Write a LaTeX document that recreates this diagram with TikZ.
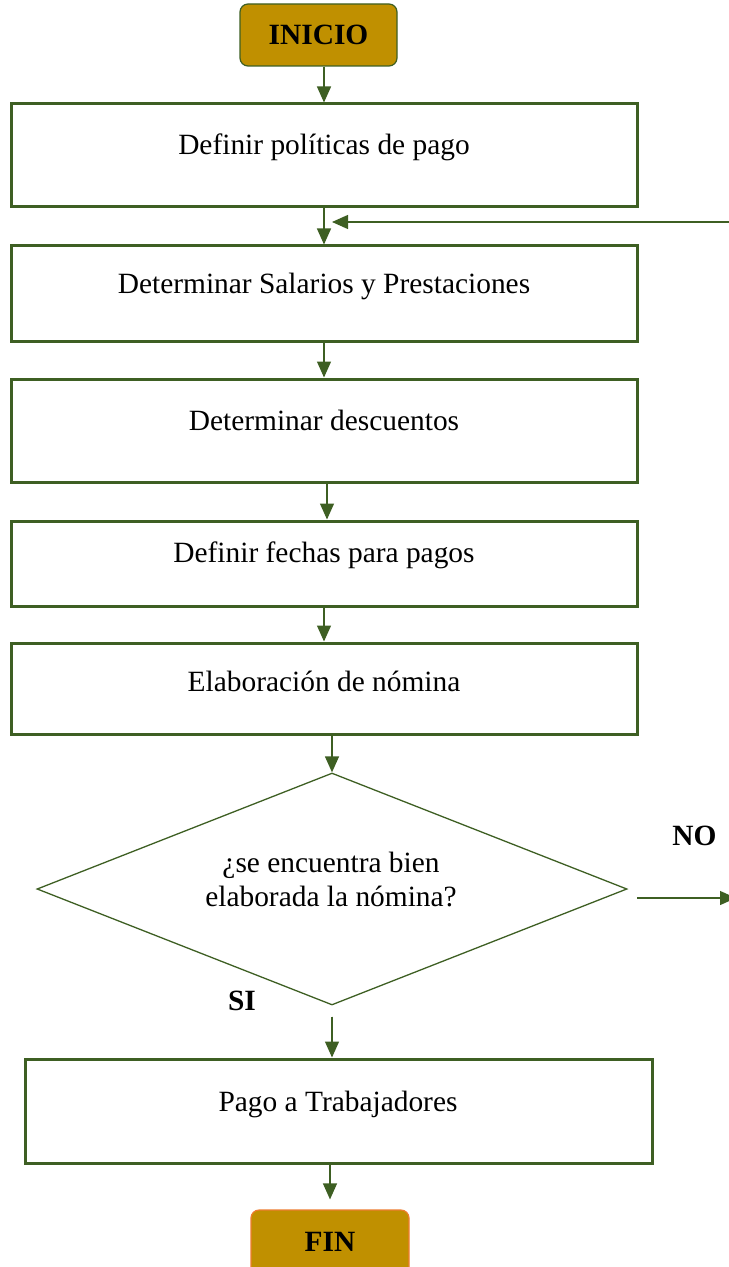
\documentclass[tikz,border=0pt]{standalone}
\usepackage{fontspec}
\setmainfont{Liberation Serif}
\usetikzlibrary{arrows.meta,shapes.geometric}
\definecolor{dgreen}{RGB}{62,95,35}
\definecolor{gold}{RGB}{192,144,0}
\definecolor{orng}{RGB}{237,125,49}
\begin{document}
\begin{tikzpicture}[x=0.5pt,y=-0.5pt,
  every node/.style={font=\fontsize{14.7}{17.6}\selectfont, inner sep=0pt},
  procbox/.style={draw=dgreen, line width=1.5pt, rectangle, minimum width=313pt},
  termbox/.style={fill=gold, rectangle, rounded corners=4pt, minimum width=78.5pt, minimum height=31pt, line width=0.6pt},
  dec/.style={draw=dgreen, line width=0.65pt, diamond, minimum width=295pt, minimum height=116pt},
  txt/.style={anchor=base},
  btxt/.style={anchor=base, font=\fontsize{14.7}{17.6}\selectfont\bfseries},
  arr/.style={draw=dgreen, line width=0.65pt, -{Triangle[length=8pt,width=7pt]}, fill=dgreen}
]
\useasboundingbox (0,0) rectangle (728,1267);

% terminals
\node[termbox, draw=dgreen] (ini) at (318.5,35) {};
\node[btxt] (tini) at (318.5,45) {INICIO};
\node[termbox, draw=orng, minimum width=79pt, minimum height=32.5pt] (fin) at (330,1242.5) {};
\node[btxt] (tfin) at (330,1251) {FIN};

% process boxes
\node[procbox, minimum height=51.5pt] (b1) at (324,155.5) {};
\node[txt] (t1) at (324,155) {Definir políticas de pago};
\node[procbox, minimum height=47.5pt] (b2) at (324,293.5) {};
\node[txt] (t2) at (324,293) {Determinar Salarios y Prestaciones};
\node[procbox, minimum height=51.5pt] (b3) at (324,430.5) {};
\node[txt] (t3) at (324,430) {Determinar descuentos};
\node[procbox, minimum height=42.5pt] (b4) at (324,563.5) {};
\node[txt] (t4) at (324,562) {Definir fechas para pagos};
\node[procbox, minimum height=45.5pt] (b5) at (324,688.5) {};
\node[txt] (t5) at (324,691) {Elaboración de nómina};
\node[procbox, minimum width=313.5pt, minimum height=52pt] (b6) at (338.5,1111) {};
\node[txt] (t6) at (338,1111) {Pago a Trabajadores};

% decision
\node[dec] (dia) at (332,889) {};
\node[txt] (td1) at (331,872) {¿se encuentra bien};
\node[txt] (td2) at (331,906) {elaborada la nómina?};

% labels
\node[btxt] (no) at (694.5,845) {NO};
\node[btxt] (si) at (242,1010) {SI};

% connectors
\draw[arr] (ini.south -| b1.north) -- (b1.north);
\draw[arr] (b1.south) -- (b2.north);
\draw[arr] (b2.south) -- (b3.north);
\draw[arr] ([xshift=1.5pt]b3.south) -- ([xshift=1.5pt]b4.north);
\draw[arr] (b4.south) -- (b5.north);
\draw[arr] (b5.south -| dia.north) -- (dia.north);
\draw[arr] ([yshift=-5.5pt]dia.south) -- (dia.south |- b6.north);
\draw[arr] (b6.south -| fin.north) -- ([yshift=5pt]fin.north);

\coordinate (nostart) at (637,898);
\coordinate (noend) at (736,898);
\draw[arr] (nostart) -- (noend);

\coordinate (fbstart) at (730,222);
\coordinate (fbend) at (332,222);
\draw[arr] (fbstart) -- (fbend);
\end{tikzpicture}
\end{document}
